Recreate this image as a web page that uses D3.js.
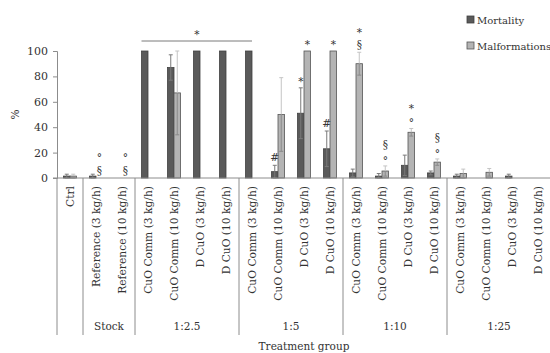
<!DOCTYPE html>
<html>
<head>
<meta charset="utf-8">
<script src="https://cdn.jsdelivr.net/npm/d3@7"></script>
<style>
  body { margin: 0; background: #fff; }
  text { font-family: "DejaVu Serif", serif; fill: #333; }
</style>
</head>
<body>
<div id="chart"></div>
<script>
const categories = [
    'Ctrl', 'Reference (3 kg/h)', 'Reference (10 kg/h)',
    'CuO Comm (3 kg/h)', 'CuO Comm (10 kg/h)', 'D CuO (3 kg/h)', 'D CuO (10 kg/h)',
    'CuO Comm (3 kg/h)', 'CuO Comm (10 kg/h)', 'D CuO (3 kg/h)', 'D CuO (10 kg/h)',
    'CuO Comm (3 kg/h)', 'CuO Comm (10 kg/h)', 'D CuO (3 kg/h)', 'D CuO (10 kg/h)',
    'CuO Comm (3 kg/h)', 'CuO Comm (10 kg/h)', 'D CuO (3 kg/h)', 'D CuO (10 kg/h)'
];
const groupLabels = ['', 'Stock', '1:2.5', '1:5', '1:10', '1:25'];
const groupSizes = [1, 2, 4, 4, 4, 4];

const mortality    = [1.5, 1.5, 0, 100, 87, 100, 100, 100, 5, 51, 23, 4, 1.5, 10, 4, 1.5, 0, 1.5, 0];
const mortalityErr = [1.5, 1.5, 0, 0, 10, 0, 0, 0, 5, 20, 14, 3, 2, 8, 1.5, 1.5, 0, 1.5, 0];
const malformations    = [1.5, 0, 0, 0, 67, 0, 0, 0, 50, 100, 100, 90, 5.5, 36, 12.5, 3.5, 4.5, 0, 0];
const malformationsErr = [1.5, 0, 0, 0, 33, 0, 0, 0, 29, 0, 0, 9, 4, 3, 2.5, 3.5, 3, 0, 0];

const yTicks = [0, 20, 40, 60, 80, 100];

// significance marks, listed from the bar upwards
const marks = [
    { i: 1, s: 'malf', sym: ['§', '°'] },
    { i: 2, s: 'malf', sym: ['§', '°'] },
    { i: 8, s: 'mort', sym: ['#'] },
    { i: 9, s: 'mort', sym: ['*'] },
    { i: 9, s: 'malf', sym: ['*'] },
    { i: 10, s: 'mort', sym: ['#'] },
    { i: 10, s: 'malf', sym: ['*'] },
    { i: 11, s: 'malf', sym: ['§', '*'] },
    { i: 12, s: 'malf', sym: ['°', '§'] },
    { i: 13, s: 'malf', sym: ['°', '*'] },
    { i: 14, s: 'malf', sym: ['°', '§'] }
];

const W = 550, H = 353;
const svg = d3.select('#chart').append('svg')
    .attr('width', W)
    .attr('height', H);

const x = d3.scaleBand()
    .domain(d3.range(categories.length))
    .range([57, 551]);

const y = d3.scaleLinear()
    .domain([0, 100])
    .range([178, 51]);

const barW = 6.5;
const cx = i => x(i) + x.bandwidth() / 2;
const axisColor = '#8c8c8c';

// y axis
const yAxis = svg.append('g')
    .attr('transform', 'translate(57,0)')
    .call(d3.axisLeft(y).tickValues(yTicks).tickSize(4).tickPadding(5));
yAxis.select('.domain').attr('stroke', axisColor);
yAxis.selectAll('.tick line').attr('stroke', axisColor);
yAxis.selectAll('.tick text')
    .style('font-family', '"DejaVu Serif", serif')
    .style('font-size', '11px')
    .attr('fill', '#333');

svg.append('text')
    .attr('transform', `translate(19,${y(50)}) rotate(-90)`)
    .attr('text-anchor', 'middle')
    .style('font-size', '10.5px')
    .text('%');

// bars
const data = categories.map((c, i) => ({
    i, mort: mortality[i], mortErr: mortalityErr[i], malf: malformations[i], malfErr: malformationsErr[i]
}));

svg.selectAll('.bar-mort')
    .data(data.filter(d => d.mort > 0))
    .enter().append('rect')
    .attr('class', 'bar-mort')
    .attr('x', d => cx(d.i) - barW)
    .attr('y', d => y(d.mort))
    .attr('width', barW)
    .attr('height', d => y(0) - y(d.mort))
    .attr('fill', '#5a5a5a')
    .attr('stroke', '#404040')
    .attr('stroke-width', 0.8);

svg.selectAll('.bar-malf')
    .data(data.filter(d => d.malf > 0))
    .enter().append('rect')
    .attr('class', 'bar-malf')
    .attr('x', d => cx(d.i))
    .attr('y', d => y(d.malf))
    .attr('width', barW)
    .attr('height', d => y(0) - y(d.malf))
    .attr('fill', '#b4b4b4')
    .attr('stroke', '#555555')
    .attr('stroke-width', 0.8);

// error bars
function errorBars(key, errKey, offset, color, lowColor) {
    const g = svg.append('g');
    data.filter(d => d[errKey] > 0).forEach(d => {
        const xc = cx(d.i) + offset;
        const hi = y(d[key] + d[errKey]);
        const lo = y(Math.max(0, d[key] - d[errKey]));
        const mid = y(d[key]);
        g.append('line').attr('x1', xc).attr('x2', xc).attr('y1', hi).attr('y2', mid)
            .attr('stroke', color).attr('stroke-width', 1);
        g.append('line').attr('x1', xc - 2).attr('x2', xc + 2).attr('y1', hi).attr('y2', hi)
            .attr('stroke', color).attr('stroke-width', 1);
        g.append('line').attr('x1', xc).attr('x2', xc).attr('y1', mid).attr('y2', lo)
            .attr('stroke', lowColor).attr('stroke-width', 1);
        g.append('line').attr('x1', xc - 2).attr('x2', xc + 2).attr('y1', lo).attr('y2', lo)
            .attr('stroke', lowColor).attr('stroke-width', 1);
    });
}
errorBars('mort', 'mortErr', -barW / 2, '#7a7a7a', '#7a7a7a');
errorBars('malf', 'malfErr', barW / 2, '#c4c4c4', '#8a8a8a');

// x axis line and group separators
svg.append('line')
    .attr('x1', 53).attr('x2', 551)
    .attr('y1', y(0)).attr('y2', y(0))
    .attr('stroke', axisColor);

let start = 0;
groupSizes.forEach((n, gi) => {
    const x0 = x(start);
    const x1 = start + n < categories.length ? x(start + n) : 551;
    svg.append('line')
        .attr('x1', x0).attr('x2', x0)
        .attr('y1', y(0)).attr('y2', 335)
        .attr('stroke', axisColor);
    if (groupLabels[gi]) {
        svg.append('text')
            .attr('x', (x0 + x1) / 2)
            .attr('y', 330)
            .attr('text-anchor', 'middle')
            .style('font-size', '10.5px')
            .text(groupLabels[gi]);
    }
    start += n;
});

// category labels
svg.selectAll('.cat-label')
    .data(categories)
    .enter().append('text')
    .attr('class', 'cat-label')
    .attr('transform', (d, i) => `translate(${cx(i)},186) rotate(-90)`)
    .attr('dy', '0.35em')
    .attr('text-anchor', 'end')
    .style('font-size', '10.7px')
    .text(d => d);

svg.append('text')
    .attr('x', 304)
    .attr('y', 350)
    .attr('text-anchor', 'middle')
    .style('font-size', '10.5px')
    .text('Treatment group');

// significance marks, one text per stack
const symOffset = { '*': 5.5, '°': 7.5, '§': 4, '#': 4 };
const symGroup = svg.append('g').style('opacity', 0.99);
marks.forEach(m => {
    const d = data[m.i];
    const top = m.s === 'mort' ? y(d.mort + d.mortErr) : y(d.malf + d.malfErr);
    const xc = cx(m.i) + (m.s === 'mort' ? -barW / 2 : barW / 2);
    const gap = m.i < 3 ? 15 : 13;
    const t = symGroup.append('text')
        .attr('text-anchor', 'middle')
        .style('font-size', '10.5px');
    m.sym.forEach((s, k) => {
        const c = top - 8.5 - k * gap;
        t.append('tspan')
            .attr('x', xc)
            .attr('y', c + symOffset[s])
            .text(s);
    });
});

// bracket over the 100 % mortality groups
const bx0 = cx(3) - barW, bx1 = cx(7);
svg.append('line')
    .attr('x1', bx0).attr('x2', bx1)
    .attr('y1', 41).attr('y2', 41)
    .attr('stroke', '#7a7a7a');
symGroup.append('text')
    .attr('x', (bx0 + bx1) / 2)
    .attr('y', 37.5)
    .attr('text-anchor', 'middle')
    .style('font-size', '10.5px')
    .text('*');

// legend
const legend = [
    { label: 'Mortality', fill: '#5a5a5a', stroke: '#404040' },
    { label: 'Malformations', fill: '#b4b4b4', stroke: '#555555' }
];
const lg = svg.append('g').attr('transform', 'translate(467,16)');
legend.forEach((l, k) => {
    lg.append('rect')
        .attr('x', 0).attr('y', k * 26)
        .attr('width', 7).attr('height', 7)
        .attr('fill', l.fill).attr('stroke', l.stroke).attr('stroke-width', 0.8);
    lg.append('text')
        .attr('x', 10).attr('y', k * 26 + 7.5)
        .style('font-size', '10px')
        .text(l.label);
});
</script>
</body>
</html>
